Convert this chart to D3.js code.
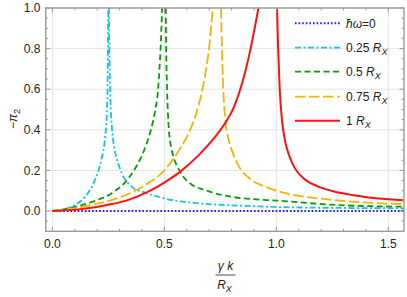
<!DOCTYPE html>
<html>
<head>
<meta charset="utf-8">
<script src="https://cdn.jsdelivr.net/npm/d3@7"></script>
<style>
  body { margin: 0; background: #fff; }
  text { font-family: "Liberation Sans", Arial, sans-serif; }
</style>
</head>
<body>
<svg width="407" height="297"></svg>
<script>
// data: [gamma k / R_X, -pi_2], null splits the branches at the resonance
const blue = [[0, 0], [1.57, 0]];
const cyan = [[0, 0], [0.057, 0.01], [0.101, 0.03], [0.146, 0.07], [0.19, 0.153], [0.22, 0.26], [0.235, 0.36], [0.243, 0.48], [0.247, 0.7], [0.249, 1.0],
  null,
  [0.252, 1.0], [0.255, 0.75], [0.259, 0.55], [0.265, 0.42], [0.275, 0.32], [0.287, 0.26], [0.31, 0.186], [0.354, 0.12], [0.414, 0.09], [0.459, 0.075], [0.5, 0.062], [0.652, 0.038], [0.8, 0.028], [1.031, 0.019], [1.3, 0.015], [1.57, 0.013]];
const green = [[0, 0], [0.116, 0.024], [0.19, 0.05], [0.265, 0.088], [0.339, 0.16], [0.38, 0.23], [0.415, 0.315], [0.44, 0.4], [0.458, 0.49], [0.472, 0.6], [0.478, 0.7], [0.483, 0.8], [0.49, 1.0],
  null,
  [0.506, 1.0], [0.508, 0.8], [0.512, 0.6], [0.52, 0.4], [0.526, 0.34], [0.533, 0.3], [0.57, 0.194], [0.615, 0.136], [0.682, 0.103], [0.8, 0.07], [1.031, 0.049], [1.262, 0.03], [1.57, 0.021]];
const orange = [[0, 0], [0.116, 0.016], [0.19, 0.034], [0.265, 0.054], [0.339, 0.084], [0.414, 0.128], [0.5, 0.2], [0.563, 0.295], [0.615, 0.4], [0.645, 0.49], [0.667, 0.585], [0.685, 0.69], [0.7, 0.805], [0.716, 1.0],
  null,
  [0.753, 1.0], [0.757, 0.8], [0.763, 0.6], [0.772, 0.45], [0.785, 0.36], [0.801, 0.3], [0.83, 0.225], [0.875, 0.165], [0.95, 0.12], [1.031, 0.09], [1.188, 0.062], [1.337, 0.046], [1.57, 0.034]];
const red = [[0, 0], [0.116, 0.008], [0.19, 0.018], [0.265, 0.034], [0.339, 0.055], [0.414, 0.088], [0.5, 0.14], [0.578, 0.2], [0.652, 0.274], [0.72, 0.356], [0.77, 0.431], [0.81, 0.511], [0.85, 0.64], [0.883, 0.79], [0.92, 1.0],
  null,
  [1.003, 1.0], [1.008, 0.8], [1.015, 0.6], [1.025, 0.45], [1.04, 0.34], [1.06, 0.265], [1.083, 0.21], [1.128, 0.155], [1.189, 0.12], [1.262, 0.095], [1.337, 0.079], [1.411, 0.067], [1.485, 0.059], [1.57, 0.053]];

const legendLabels = ['0', '0.25', '0.5', '0.75', '1'];
const xTicks = [0, 0.5, 1.0, 1.5];
const yTicks = [0, 0.2, 0.4, 0.6, 0.8, 1.0];

const svg = d3.select('svg');
const plotLeft = 45.7, plotRight = 404, plotTop = 8, plotBottom = 231.3;

const x = d3.scaleLinear().domain([-0.03, 1.57]).range([plotLeft, plotRight]);
const y = d3.scaleLinear().domain([-0.1, 1.0]).range([plotBottom, plotTop]);

// grid
const grid = svg.append('g').attr('stroke', '#e4e4e4').attr('stroke-width', 1);
grid.selectAll('.gx').data(xTicks).join('line')
  .attr('x1', d => x(d)).attr('x2', d => x(d)).attr('y1', plotTop).attr('y2', plotBottom);
grid.selectAll('.gy').data(yTicks).join('line')
  .attr('y1', d => y(d)).attr('y2', d => y(d)).attr('x1', plotLeft).attr('x2', plotRight);

// curves
svg.append('clipPath').attr('id', 'clip')
  .append('rect').attr('x', plotLeft).attr('y', plotTop)
  .attr('width', plotRight - plotLeft).attr('height', plotBottom - plotTop);

const line = d3.line()
  .defined(d => d !== null)
  .x(d => x(d[0])).y(d => y(d[1]))
  .curve(d3.curveMonotoneX);

const series = [
  { data: blue, color: '#1a1aff', dash: '1.6,2', width: 2 },
  { data: cyan, color: '#12c3e6', dash: '6,2.5,2,2.5', width: 1.8 },
  { data: green, color: '#0b9a0b', dash: '6,3.5', width: 1.8 },
  { data: orange, color: '#f2b400', dash: '10.5,3.5', width: 1.8 },
  { data: red, color: '#ff1010', dash: null, width: 2 }
];

const plot = svg.append('g').attr('clip-path', 'url(#clip)');
series.forEach(s => {
  plot.append('path')
    .attr('d', line(s.data))
    .attr('fill', 'none')
    .attr('stroke', s.color)
    .attr('stroke-width', s.width)
    .attr('stroke-dasharray', s.dash);
});

// frame and ticks (ticks point inwards on all four sides)
const frameColor = '#9a9a9a';
svg.append('rect')
  .attr('x', plotLeft).attr('y', plotTop)
  .attr('width', plotRight - plotLeft).attr('height', plotBottom - plotTop)
  .attr('fill', 'none').attr('stroke', frameColor).attr('stroke-width', 1.4);

const xMinor = d3.range(0, 1.56, 0.1);
const yMinor = d3.range(-0.05, 1.001, 0.05);
const ticks = svg.append('g').attr('stroke', frameColor).attr('stroke-width', 1);
xMinor.forEach(v => {
  const major = xTicks.some(t => Math.abs(t - v) < 1e-6);
  const len = major ? 4.5 : 2.5;
  ticks.append('line').attr('x1', x(v)).attr('x2', x(v)).attr('y1', plotBottom).attr('y2', plotBottom - len);
  ticks.append('line').attr('x1', x(v)).attr('x2', x(v)).attr('y1', plotTop).attr('y2', plotTop + len);
});
yMinor.forEach(v => {
  const major = yTicks.some(t => Math.abs(t - v) < 1e-6);
  const len = major ? 4.5 : 2.5;
  ticks.append('line').attr('y1', y(v)).attr('y2', y(v)).attr('x1', plotLeft).attr('x2', plotLeft + len);
  ticks.append('line').attr('y1', y(v)).attr('y2', y(v)).attr('x1', plotRight).attr('x2', plotRight - len);
});

// tick labels
svg.selectAll('.xl').data(xTicks).join('text')
  .attr('x', d => x(d)).attr('y', 248)
  .attr('text-anchor', 'middle').attr('font-size', 12).attr('fill', '#222')
  .text(d => d3.format('.1f')(d));
svg.selectAll('.yl').data(yTicks).join('text')
  .attr('x', 40.5).attr('y', d => y(d) + 4.2)
  .attr('text-anchor', 'end').attr('font-size', 12).attr('fill', '#222')
  .text(d => d3.format('.1f')(d));

// axis titles
const yt = svg.append('text')
  .attr('transform', 'translate(17,119) rotate(-90)')
  .attr('text-anchor', 'middle').attr('font-size', 12).attr('fill', '#222');
yt.append('tspan').text('\u2212');
yt.append('tspan').attr('font-style', 'italic').text('\u03c0');
yt.append('tspan').attr('font-size', 9).attr('dy', 3).text('2');

const cx = 225.5;
svg.append('text').attr('x', cx).attr('y', 270)
  .attr('text-anchor', 'middle').attr('font-size', 12).attr('fill', '#222')
  .attr('font-style', 'italic')
  .text('\u03b3 k');
svg.append('line').attr('x1', cx - 10).attr('x2', cx + 10).attr('y1', 275).attr('y2', 275)
  .attr('stroke', '#222').attr('stroke-width', 0.8);
const den = svg.append('text').attr('x', cx - 1).attr('y', 289)
  .attr('text-anchor', 'middle').attr('font-size', 12).attr('fill', '#222')
  .attr('font-style', 'italic');
den.append('tspan').text('R');
den.append('tspan').attr('font-size', 9).attr('dy', 3).text('X');

// legend
const legendY = [23.3, 47.7, 71.7, 96.7, 120.7];
const legend = svg.append('g');
series.forEach((s, i) => {
  legend.append('line')
    .attr('x1', 295).attr('x2', 340).attr('y1', legendY[i]).attr('y2', legendY[i])
    .attr('stroke', s.color).attr('stroke-width', s.width)
    .attr('stroke-dasharray', s.dash);
  const t = legend.append('text').attr('x', 346).attr('y', legendY[i] + 4.3)
    .attr('font-size', 12).attr('fill', '#222');
  if (i === 0) {
    t.append('tspan').attr('font-style', 'italic').text('\u0127\u03c9');
    t.append('tspan').text('=' + legendLabels[i]);
  } else {
    t.append('tspan').text(legendLabels[i] + ' ');
    t.append('tspan').attr('font-style', 'italic').text('R');
    t.append('tspan').attr('font-style', 'italic').attr('font-size', 9).attr('dy', 3).text('X');
  }
});
</script>
</body>
</html>
